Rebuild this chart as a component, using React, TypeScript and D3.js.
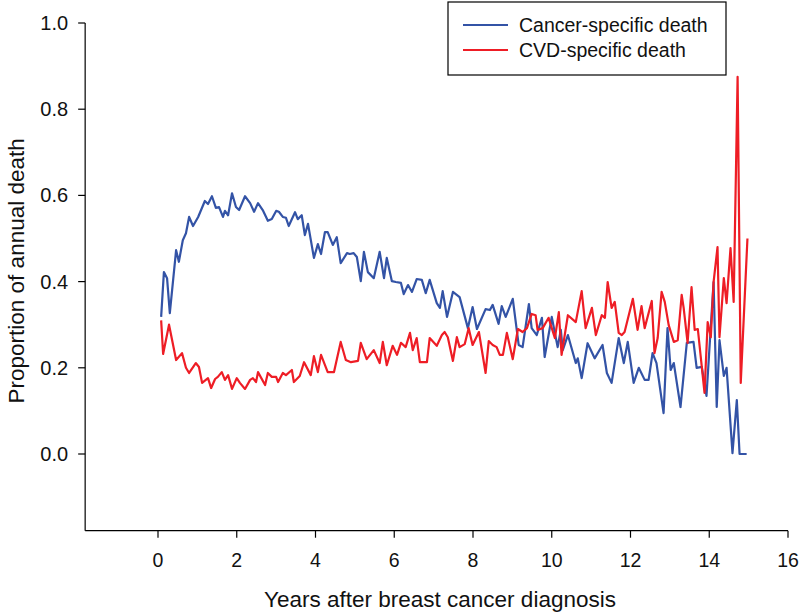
import React from "react";
import * as d3 from "d3";

const xTicks = [0, 2, 4, 6, 8, 10, 12, 14, 16];
const yTicks = [0, 0.2, 0.4, 0.6, 0.8, 1.0];

const cancerYears = [0.08,0.15,0.23,0.30,0.46,0.53,0.63,0.71,0.79,0.89,1.02,1.19,1.27,1.37,1.47,1.55,1.65,1.70,1.78,1.88,1.98,2.06,2.21,2.34,2.44,2.54,2.66,2.79,2.89,3.00,3.07,3.17,3.25,3.32,3.48,3.55,3.65,3.73,3.81,3.96,4.06,4.14,4.24,4.31,4.44,4.54,4.64,4.80,4.87,4.97,5.05,5.15,5.23,5.33,5.48,5.63,5.74,5.81,5.94,6.04,6.17,6.24,6.35,6.45,6.57,6.70,6.80,6.90,7.08,7.16,7.23,7.34,7.49,7.66,7.87,7.99,8.10,8.32,8.43,8.50,8.65,8.73,8.83,9.01,9.16,9.26,9.42,9.49,9.62,9.75,9.82,10.00,10.15,10.23,10.28,10.41,10.61,10.66,10.76,10.91,11.09,11.29,11.40,11.52,11.70,11.83,11.93,12.08,12.21,12.36,12.46,12.56,12.66,12.84,12.94,13.02,13.10,13.27,13.43,13.60,13.68,13.81,13.93,14.11,14.19,14.26,14.37,14.44,14.59,14.70,14.77,14.95];
const cancerValues = [0.318,0.422,0.408,0.327,0.473,0.446,0.496,0.512,0.55,0.529,0.55,0.587,0.58,0.598,0.571,0.573,0.55,0.564,0.554,0.605,0.573,0.566,0.598,0.582,0.562,0.582,0.566,0.541,0.545,0.564,0.562,0.55,0.548,0.529,0.561,0.545,0.554,0.508,0.534,0.455,0.487,0.464,0.515,0.515,0.485,0.503,0.443,0.466,0.464,0.466,0.457,0.401,0.469,0.422,0.408,0.469,0.408,0.455,0.401,0.399,0.397,0.371,0.392,0.376,0.406,0.404,0.373,0.404,0.35,0.339,0.378,0.318,0.376,0.364,0.292,0.341,0.29,0.336,0.334,0.346,0.302,0.343,0.318,0.36,0.253,0.248,0.348,0.292,0.276,0.316,0.225,0.318,0.248,0.288,0.241,0.276,0.211,0.222,0.176,0.257,0.222,0.253,0.188,0.165,0.269,0.211,0.26,0.165,0.2,0.172,0.172,0.234,0.211,0.095,0.292,0.195,0.211,0.109,0.258,0.26,0.2,0.202,0.135,0.399,0.109,0.264,0.181,0.2,0.002,0.125,0,0];

const cvdYears = [0.08,0.13,0.28,0.46,0.61,0.71,0.79,0.96,1.04,1.12,1.27,1.35,1.45,1.52,1.62,1.70,1.78,1.88,2.00,2.08,2.21,2.34,2.41,2.49,2.54,2.72,2.79,2.89,3.00,3.05,3.17,3.25,3.40,3.45,3.60,3.71,3.88,3.96,4.06,4.14,4.31,4.47,4.64,4.77,4.90,5.08,5.15,5.30,5.48,5.63,5.71,5.81,5.96,6.07,6.17,6.29,6.40,6.47,6.57,6.65,6.83,6.90,7.08,7.21,7.28,7.36,7.49,7.59,7.66,7.79,7.89,7.99,8.15,8.32,8.40,8.50,8.60,8.68,8.76,8.86,9.01,9.14,9.26,9.37,9.49,9.59,9.64,9.77,9.92,10.08,10.18,10.25,10.41,10.61,10.76,10.86,11.02,11.12,11.27,11.35,11.42,11.52,11.60,11.70,11.78,11.85,12.06,12.18,12.28,12.36,12.54,12.61,12.69,12.79,12.87,12.97,13.10,13.20,13.30,13.35,13.45,13.55,13.63,13.71,13.88,13.96,14.04,14.11,14.21,14.26,14.37,14.44,14.54,14.62,14.72,14.80,14.97];
const cvdValues = [0.31,0.232,0.30,0.218,0.234,0.2,0.188,0.211,0.202,0.165,0.176,0.153,0.174,0.179,0.19,0.172,0.183,0.151,0.176,0.165,0.151,0.172,0.176,0.167,0.19,0.16,0.188,0.179,0.179,0.167,0.188,0.183,0.195,0.167,0.181,0.213,0.183,0.227,0.19,0.23,0.19,0.19,0.26,0.218,0.213,0.216,0.258,0.22,0.241,0.211,0.26,0.206,0.251,0.23,0.258,0.248,0.281,0.241,0.269,0.213,0.213,0.269,0.251,0.276,0.283,0.271,0.216,0.271,0.248,0.255,0.292,0.253,0.283,0.188,0.262,0.253,0.248,0.23,0.23,0.281,0.22,0.29,0.283,0.292,0.325,0.322,0.288,0.292,0.316,0.269,0.329,0.23,0.322,0.306,0.378,0.292,0.339,0.276,0.322,0.316,0.399,0.339,0.353,0.281,0.276,0.283,0.36,0.288,0.343,0.292,0.355,0.234,0.269,0.376,0.353,0.299,0.26,0.264,0.369,0.339,0.258,0.387,0.288,0.29,0.142,0.306,0.271,0.399,0.48,0.271,0.408,0.35,0.478,0.353,0.875,0.165,0.5];

const seriesNames = ["Cancer-specific death", "CVD-specific death"];
const seriesColors = ["#3353a6", "#ee1d25"];

const FONT = "'Liberation Sans', Arial, Helvetica, sans-serif";

export default function App() {
  const x = d3.scaleLinear().domain([0, 16]).range([158, 788]);
  const y = d3.scaleLinear().domain([0, 1]).range([454, 23]);
  const xMin = -1.85;
  const yMin = -0.178;

  const line = d3
    .line<[number, number]>()
    .x((d) => x(d[0]))
    .y((d) => y(d[1]));

  const cancer: [number, number][] = cancerYears.map((t, i) => [t, cancerValues[i]]);
  const cvd: [number, number][] = cvdYears.map((t, i) => [t, cvdValues[i]]);

  const left = x(xMin);
  const bottom = y(yMin);

  return (
    <svg
      width={800}
      height={615}
      style={{ position: "absolute", left: 0, top: 0, background: "#fff" }}
      fontFamily={FONT}
    >
      <rect x={0} y={0} width={800} height={615} fill="#fff" />
      {/* data lines */}
      <path d={line(cancer) || ""} fill="none" stroke={seriesColors[0]} strokeWidth={2.2} strokeLinejoin="round" />
      <path d={line(cvd) || ""} fill="none" stroke={seriesColors[1]} strokeWidth={2.2} strokeLinejoin="round" />

      {/* y axis */}
      <line x1={left} x2={left} y1={y(1)} y2={bottom} stroke="#000" strokeWidth={1.2} />
      {yTicks.map((t) => (
        <g key={"y" + t}>
          <line x1={left - 7} x2={left} y1={y(t)} y2={y(t)} stroke="#000" strokeWidth={1.2} />
          <text x={left - 17} y={y(t)} dy="0.35em" textAnchor="end" fontSize={20} fill="#111">
            {t.toFixed(1)}
          </text>
        </g>
      ))}
      {/* x axis */}
      <line x1={left} x2={x(16)} y1={bottom} y2={bottom} stroke="#000" strokeWidth={1.2} />
      {xTicks.map((t) => (
        <g key={"x" + t}>
          <line x1={x(t)} x2={x(t)} y1={bottom} y2={bottom + 7} stroke="#000" strokeWidth={1.2} />
          <text x={x(t)} y={bottom + 36} textAnchor="middle" fontSize={19.5} fill="#111">
            {t}
          </text>
        </g>
      ))}
      <text x={440} y={607} textAnchor="middle" fontSize={22.5} fill="#111">
        Years after breast cancer diagnosis
      </text>
      <text
        transform={`translate(24, ${(y(1) + bottom) / 2 - 6}) rotate(-90)`}
        textAnchor="middle"
        fontSize={22.5}
        fill="#111"
      >
        Proportion of annual death
      </text>

      {/* legend */}
      <rect x={448} y={2} width={278} height={73} fill="#fff" stroke="#000" strokeWidth={1.2} />
      {seriesNames.map((name, i) => (
        <g key={name}>
          <line x1={463} x2={508} y1={25 + i * 25} y2={25 + i * 25} stroke={seriesColors[i]} strokeWidth={2.2} />
          <text x={519} y={25 + i * 25} dy="0.35em" fontSize={19.5} fill="#111">
            {name}
          </text>
        </g>
      ))}
    </svg>
  );
}
